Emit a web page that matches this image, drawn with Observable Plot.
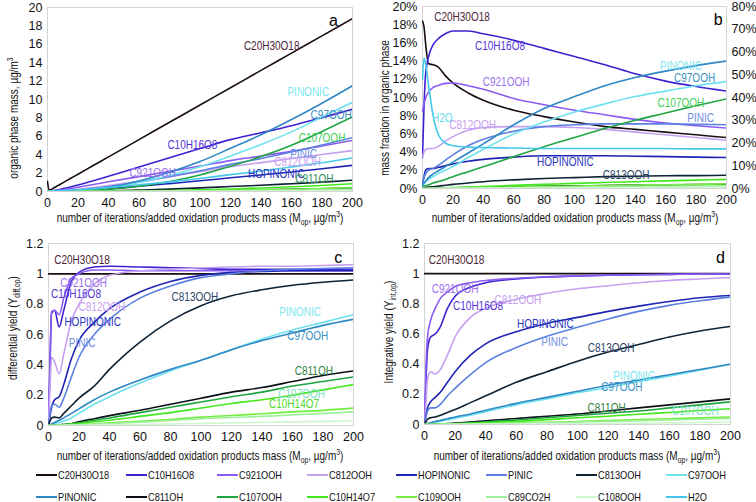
<!DOCTYPE html>
<html><head><meta charset="utf-8">
<script src="https://cdn.jsdelivr.net/npm/d3@7"></script>
<script src="https://cdn.jsdelivr.net/npm/@observablehq/plot@0.6"></script>
<style>
body{margin:0;background:#fff;}
#root{position:relative;width:756px;height:502px;overflow:hidden;background:#fff;}
.panel{position:absolute;}
.ylab,.xlab{position:absolute;white-space:nowrap;color:#111;font-family:'Liberation Sans',Arial,sans-serif;font-size:12.5px;line-height:1;}
.ylab{transform:translate(-50%,-50%) rotate(-90deg) scaleX(0.8);}
.xlab{transform:translate(-50%,-50%) scaleX(0.8);}
sub,sup{font-size:8.5px;line-height:0;}
.leg{position:absolute;display:flex;align-items:center;font-family:'Liberation Sans',Arial,sans-serif;font-size:11.5px;color:#111;transform:translateY(-50%);white-space:nowrap;}
.leg span.sw{display:inline-block;width:21px;height:2px;margin-right:1px;}
.leg span.tx{display:inline-block;transform:scaleX(0.8);transform-origin:0 50%;}
</style>
</head><body><div id="root"></div>
<script>
// ---- categories ----
const species = ["C20H30O18","C10H16O8","C921OOH","C812OOH","HOPINONIC","PINIC","C813OOH","C97OOH",
                 "PINONIC","C811OH","C107OOH","C10H14O7","C109OOH","C89CO2H","C108OOH","H2O"];
const lineColors = ["#1a0d12","#3c22d2","#8a5cf2","#c5a0f0","#1e24b4","#5b80e2","#0e2233","#6fe2f0",
                    "#2f88c4","#0a0f18","#1fa540","#42e81c","#72ec3e","#9ef09c","#cff6cf","#44c7ea"];
// x: number of iterations / added oxidation products mass
const X = [0,1,2,4,7,10,15,20,30,40,60,80,100,120,140,160,180,200];
const xTicks = [0,20,40,60,80,100,120,140,160,180,200];

// ---- panel a: organic phase mass, µg/m3 ----
const a_C20H30O18 = [1.1,0.15,0.2,0.38,0.66,0.94,1.41,1.88,2.82,3.76,5.64,7.52,9.4,11.28,13.16,15.04,16.92,18.8];
const a_C10H16O8 = [0,0.014,0.044,0.1,0.19,0.3,0.49,0.7,1.16,1.65,2.67,3.67,4.67,5.64,6.38,7.15,8.03,8.95];
const a_C921OOH  = [0,0.014,0.035,0.074,0.13,0.2,0.33,0.47,0.76,1.06,1.62,2.19,2.77,3.36,3.85,4.36,4.95,5.55];
const a_C812OOH  = [0,0.006,0.015,0.031,0.053,0.083,0.15,0.23,0.43,0.65,1.12,1.62,2.16,2.7,3.14,3.58,4.02,4.45];
const a_HOPINONIC = [0,0.002,0.007,0.015,0.026,0.041,0.073,0.11,0.2,0.31,0.57,0.86,1.16,1.49,1.8,2.12,2.47,2.85];
const a_PINIC    = [0,0.002,0.006,0.014,0.026,0.045,0.09,0.15,0.31,0.52,1.03,1.62,2.25,2.95,3.59,4.3,5.05,5.85];
const a_C813OOH  = [0,0,0,0.001,0.002,0.005,0.01,0.018,0.04,0.073,0.156,0.26,0.39,0.54,0.68,0.85,1.02,1.22];
const a_C97OOH   = [0,0.001,0.002,0.007,0.016,0.029,0.058,0.097,0.23,0.42,0.98,1.74,2.7,3.86,5.11,6.48,8.1,9.7];
const a_PINONIC  = [0,0.001,0.003,0.008,0.019,0.034,0.07,0.12,0.26,0.48,1.15,2.09,3.25,4.69,6.17,7.82,9.6,11.5];
const a_C811OH   = [0,0,0,0,0,0,0.001,0.002,0.006,0.012,0.03,0.057,0.09,0.13,0.18,0.23,0.3,0.37];
const a_C107OOH  = [0,0,0.001,0.003,0.007,0.014,0.029,0.053,0.124,0.23,0.57,1.09,1.8,2.74,3.8,5.03,6.52,8.1];
const a_C10H14O7 = [0,0,0,0,0,0,0.002,0.004,0.011,0.021,0.056,0.107,0.18,0.27,0.38,0.51,0.66,0.84];
const a_C109OOH  = [0,0,0,0,0,0,0.001,0.002,0.005,0.01,0.027,0.052,0.088,0.13,0.19,0.25,0.33,0.42];
const a_C89CO2H  = [0,0,0,0,0,0,0,0.001,0.003,0.006,0.016,0.031,0.052,0.079,0.11,0.15,0.2,0.25];
const a_C108OOH  = [0,0,0,0,0,0,0,0,0.001,0.002,0.006,0.012,0.021,0.032,0.045,0.06,0.08,0.1];
const a_H2O      = [0,0.02,0.048,0.079,0.096,0.11,0.145,0.19,0.3,0.44,0.73,1.05,1.42,1.83,2.23,2.67,3.12,3.65];

// ---- panel b: mass fraction in organic phase, % (C20H30O18 on the right axis, %) ----
const b_C20H30O18 = [73.6,71,64,54.8,54.4,53.6,49.6,46.4,42,38.8,34.4,31.6,29.2,27.2,26,24.8,23.6,22.4];
const b_C10H16O8 = [3.4,9,12.5,14.5,15.8,16.4,17.0,17.3,17.3,17.0,16.3,15.4,14.5,13.6,12.6,11.8,11.2,10.7];
const b_C921OOH  = [8.5,9.3,9.9,10.6,11.1,11.3,11.55,11.6,11.3,10.9,9.9,9.2,8.6,8.1,7.6,7.2,6.9,6.65];
const b_C812OOH  = [3.5,4.0,4.3,4.4,4.4,4.6,5.2,5.7,6.4,6.7,6.8,6.8,6.7,6.5,6.2,5.9,5.6,5.3];
const b_HOPINONIC = [0.5,1.3,2.0,2.2,2.2,2.3,2.5,2.7,3.0,3.2,3.45,3.6,3.6,3.6,3.55,3.5,3.45,3.4];
const b_PINIC    = [0.5,1.2,1.6,2.0,2.2,2.5,3.1,3.7,4.7,5.4,6.3,6.8,7.0,7.1,7.1,7.1,7.05,7.0];
const b_C813OOH  = [0.05,0.1,0.12,0.15,0.2,0.25,0.35,0.45,0.6,0.75,0.95,1.1,1.2,1.3,1.35,1.4,1.42,1.45];
const b_C97OOH   = [0.3,0.5,0.7,1.0,1.3,1.6,2.0,2.4,3.4,4.3,6.0,7.3,8.4,9.3,10.1,10.7,11.3,11.75];
const b_PINONIC  = [0.3,0.6,0.8,1.2,1.6,1.9,2.4,2.9,3.9,4.9,7.0,8.8,10.1,11.3,12.2,12.9,13.5,14.0];
const b_C811OH   = [0,0.01,0.02,0.03,0.04,0.05,0.06,0.07,0.1,0.13,0.19,0.24,0.29,0.33,0.37,0.4,0.43,0.45];
const b_C107OOH  = [0.1,0.2,0.3,0.4,0.6,0.75,1.0,1.3,1.85,2.4,3.5,4.6,5.6,6.6,7.5,8.3,9.1,9.85];
const b_C10H14O7 = [0,0,0.01,0.02,0.03,0.05,0.08,0.1,0.16,0.22,0.34,0.45,0.56,0.66,0.75,0.84,0.92,1.0];
const b_C109OOH  = [0,0,0,0.01,0.015,0.02,0.035,0.05,0.08,0.11,0.17,0.22,0.28,0.33,0.38,0.42,0.46,0.5];
const b_C89CO2H  = [0,0,0,0.005,0.01,0.015,0.02,0.03,0.05,0.065,0.1,0.13,0.16,0.2,0.23,0.25,0.28,0.3];
const b_C108OOH  = [0,0,0,0,0,0.005,0.01,0.01,0.02,0.025,0.04,0.05,0.065,0.08,0.09,0.1,0.11,0.12];
const b_H2O      = [12,14.3,13.8,11.3,8.0,6.1,5.0,4.7,4.55,4.5,4.45,4.4,4.4,4.4,4.4,4.4,4.35,4.35];

// ---- panel c: differential yield ----
const c_C20H30O18 = [1,1,1,1,1,1,1,1,1,1,1,1,1,1,1,1,1,1];
const c_C10H16O8 = [0,0.4,0.74,0.76,0.65,0.76,0.95,1.01,1.045,1.05,1.045,1.04,1.035,1.03,1.03,1.03,1.03,1.03];
const c_C921OOH  = [0,0.45,0.75,0.76,0.73,0.84,0.97,1.0,1.025,1.025,1.02,1.02,1.02,1.02,1.02,1.02,1.02,1.02];
const c_C812OOH  = [0,0.25,0.45,0.42,0.34,0.47,0.69,0.8,0.93,0.99,1.02,1.03,1.04,1.045,1.05,1.05,1.055,1.06];
const c_HOPINONIC = [0,0.06,0.12,0.17,0.19,0.27,0.44,0.56,0.68,0.77,0.88,0.95,0.99,1.01,1.015,1.02,1.02,1.02];
const c_PINIC    = [0,0.07,0.13,0.14,0.12,0.18,0.32,0.45,0.6,0.7,0.84,0.92,0.975,1.0,1.02,1.03,1.035,1.04];
const c_C813OOH  = [0,0.03,0.05,0.055,0.05,0.08,0.13,0.18,0.26,0.37,0.55,0.69,0.79,0.855,0.895,0.925,0.945,0.96];
const c_C97OOH   = [0,0.003,0.006,0.012,0.02,0.03,0.05,0.08,0.14,0.19,0.28,0.36,0.43,0.5,0.57,0.63,0.68,0.73];
const c_PINONIC  = [0,0.005,0.01,0.02,0.035,0.05,0.08,0.11,0.17,0.22,0.3,0.37,0.43,0.5,0.56,0.61,0.66,0.70];
const c_C811OH   = [0,0,0,0.002,0.004,0.007,0.012,0.025,0.045,0.065,0.1,0.14,0.18,0.22,0.25,0.29,0.33,0.36];
const c_C107OOH  = [0,0,0,0.002,0.004,0.007,0.012,0.018,0.035,0.05,0.085,0.12,0.155,0.19,0.22,0.26,0.29,0.32];
const c_C10H14O7 = [0,0,0,0.001,0.003,0.005,0.009,0.013,0.025,0.035,0.06,0.085,0.115,0.145,0.17,0.2,0.235,0.27];
const c_C109OOH  = [0,0,0,0,0.001,0.002,0.004,0.006,0.012,0.017,0.028,0.04,0.055,0.066,0.077,0.09,0.1,0.115];
const c_C89CO2H  = [0,0,0,0,0.001,0.002,0.003,0.005,0.009,0.013,0.022,0.033,0.045,0.053,0.06,0.07,0.08,0.09];
const c_C108OOH  = [0,0,0,0,0,0,0.001,0.001,0.003,0.004,0.007,0.01,0.013,0.017,0.02,0.024,0.027,0.03];

// ---- panel d: integrative yield ----
const d_C20H30O18 = [1,1,1,1,1,1,1,1,1,1,1,1,1,1,1,1,1,1];
const d_C10H16O8 = [0,0.3,0.5,0.58,0.6,0.64,0.77,0.85,0.91,0.94,0.965,0.978,0.985,0.99,0.993,0.995,0.997,0.998];
const d_C921OOH  = [0,0.4,0.58,0.69,0.77,0.83,0.88,0.915,0.94,0.955,0.97,0.98,0.985,0.99,0.993,0.995,0.997,0.998];
const d_C812OOH  = [0,0.15,0.3,0.35,0.335,0.36,0.46,0.58,0.71,0.77,0.83,0.87,0.9,0.92,0.94,0.955,0.965,0.975];
const d_HOPINONIC = [0,0.06,0.11,0.15,0.18,0.21,0.28,0.35,0.46,0.535,0.615,0.67,0.71,0.75,0.785,0.815,0.84,0.855];
const d_PINIC    = [0,0.05,0.09,0.11,0.11,0.13,0.19,0.24,0.33,0.41,0.51,0.585,0.645,0.7,0.75,0.79,0.82,0.845];
const d_C813OOH  = [0,0.02,0.035,0.045,0.05,0.06,0.08,0.1,0.145,0.19,0.28,0.35,0.42,0.48,0.53,0.58,0.62,0.65];
const d_C97OOH   = [0,0.002,0.004,0.008,0.014,0.02,0.03,0.04,0.062,0.085,0.13,0.17,0.21,0.245,0.285,0.32,0.36,0.40];
const d_PINONIC  = [0,0.003,0.006,0.012,0.02,0.027,0.038,0.05,0.07,0.095,0.14,0.18,0.22,0.26,0.295,0.33,0.365,0.40];
const d_C811OH   = [0,0,0,0.001,0.002,0.003,0.006,0.009,0.016,0.025,0.04,0.055,0.07,0.09,0.11,0.13,0.15,0.17];
const d_C107OOH  = [0,0,0,0.001,0.002,0.003,0.005,0.007,0.012,0.017,0.03,0.045,0.06,0.075,0.09,0.11,0.13,0.15];
const d_C10H14O7 = [0,0,0,0,0.001,0.002,0.003,0.005,0.008,0.012,0.02,0.032,0.045,0.055,0.068,0.08,0.093,0.105];
const d_C109OOH  = [0,0,0,0,0,0.001,0.002,0.003,0.004,0.006,0.01,0.015,0.02,0.026,0.032,0.038,0.044,0.05];
const d_C89CO2H  = [0,0,0,0,0,0.001,0.001,0.002,0.003,0.005,0.008,0.012,0.016,0.021,0.025,0.03,0.035,0.04];
const d_C108OOH  = [0,0,0,0,0,0,0,0.001,0.001,0.002,0.003,0.005,0.006,0.008,0.009,0.011,0.013,0.015];

// ---- tick labels ----
const aTicks = [0,2,4,6,8,10,12,14,16,18,20];
const aTickLabels = ["0","2","4","6","8","10","12","14","16","18","20"];
const bTicks = [0,2,4,6,8,10,12,14,16,18,20];
const bTickLabels = ["0%","2%","4%","6%","8%","10%","12%","14%","16%","18%","20%"];
const bRightTicks = [0,2.5,5,7.5,10,12.5,15,17.5,20];
const bRightTickLabels = ["0%","10%","20%","30%","40%","50%","60%","70%","80%"];
const yieldTicks = [0,0.2,0.4,0.6,0.8,1,1.2];
const yieldTickLabels = ["0","0.2","0.4","0.6","0.8","1","1.2"];

// ---- in-chart labels: [text, x, y, colour] ----
const labelsA = [["C20H30O18",147,15.8,"#4b2535"],["PINONIC",171,10.8,"#7de6f0"],["C97OOH",186,8.3,"#3a8fc4"],
  ["C107OOH",180,5.8,"#3fcf55"],["PINIC",168,4.1,"#6d8de6"],["C812OOH",164,3.2,"#c9a0ef"],
  ["HOPINONIC",150,1.9,"#2b35c0"],["C811OH",175,1.4,"#2e8b57"],["C10H16O8",95,5.1,"#5436d6"],["C921OOH",69,2.0,"#9a70f0"]];
const labelsB = [["C20H30O18",26,18.8,"#4b2535"],["C10H16O8",51,15.7,"#5436d6"],["C921OOH",55,11.7,"#9a70f0"],
  ["H2O",13,7.8,"#66e0ee"],["C812OOH",33,7.0,"#c9a0ef"],["PINONIC",170,13.5,"#7de6f0"],["C97OOH",179,12.1,"#3a8fc4"],
  ["C107OOH",170,9.4,"#3fcf55"],["PINIC",183,7.8,"#6d8de6"],["HOPINONIC",94,2.9,"#2b35c0"],["C813OOH",134,1.5,"#2c4468"]];
const labelsC = [["C20H30O18",22,1.09,"#4b2535"],["C921OOH",23,0.94,"#9a70f0"],["C10H16O8",18,0.865,"#5436d6"],
  ["C812OOH",35,0.78,"#c9a0ef"],["HOPINONIC",29,0.685,"#2b35c0"],["PINIC",22,0.545,"#6d8de6"],["C813OOH",96,0.845,"#2c4468"],
  ["PINONIC",165,0.75,"#7de6f0"],["C97OOH",170,0.59,"#3a8fc4"],["C811OH",174,0.36,"#2e8040"],
  ["C107OOH",166,0.21,"#7fe0c8"],["C10H14O7",161,0.14,"#4fd82a"]];
const labelsD = [["C20H30O18",21,1.09,"#4b2535"],["C921OOH",20,0.9,"#9a70f0"],["C10H16O8",35,0.785,"#5436d6"],
  ["C812OOH",61,0.825,"#c9a0ef"],["HOPINONIC",79,0.667,"#2b35c0"],["PINIC",85,0.55,"#6d8de6"],["C813OOH",122,0.51,"#2c4468"],
  ["PINONIC",137,0.32,"#7de6f0"],["C97OOH",129,0.25,"#3a8fc4"],["C811OH",119,0.11,"#2e8040"],["C107OOH",177,0.09,"#7fe0c8"]];

const seriesA = [a_C20H30O18,a_C10H16O8,a_C921OOH,a_C812OOH,a_HOPINONIC,a_PINIC,a_C813OOH,a_C97OOH,a_PINONIC,a_C811OH,a_C107OOH,a_C10H14O7,a_C109OOH,a_C89CO2H,a_C108OOH,a_H2O];
const seriesB = [b_C20H30O18,b_C10H16O8,b_C921OOH,b_C812OOH,b_HOPINONIC,b_PINIC,b_C813OOH,b_C97OOH,b_PINONIC,b_C811OH,b_C107OOH,b_C10H14O7,b_C109OOH,b_C89CO2H,b_C108OOH,b_H2O];
const seriesC = [c_C20H30O18,c_C10H16O8,c_C921OOH,c_C812OOH,c_HOPINONIC,c_PINIC,c_C813OOH,c_C97OOH,c_PINONIC,c_C811OH,c_C107OOH,c_C10H14O7,c_C109OOH,c_C89CO2H,c_C108OOH,null];
const seriesD = [d_C20H30O18,d_C10H16O8,d_C921OOH,d_C812OOH,d_HOPINONIC,d_PINIC,d_C813OOH,d_C97OOH,d_PINONIC,d_C811OH,d_C107OOH,d_C10H14O7,d_C109OOH,d_C89CO2H,d_C108OOH,null];

const FONT = "'Liberation Sans',Arial,sans-serif";

function buildPanel(o) {
  const marks = [Plot.frame({stroke: "#d4d4d4", strokeWidth: 1})];
  o.series.forEach((vals, i) => {
    if (!vals) return;
    const k = (o.factor && o.factor[species[i]]) || 1;
    const rows = X.map((x, j) => ({x, y: vals[j] * k}));
    marks.push(Plot.line(rows, {x: "x", y: "y", stroke: lineColors[i], strokeWidth: 1.6, curve: "monotone-x", clip: true}));
  });
  o.labels.forEach(([t, x, y, c]) => marks.push(
    Plot.text([{x, y, t}], {x: "x", y: "y", text: "t", fill: c, fontFamily: FONT, fontSize: 12.5})));
  marks.push(Plot.text([{x: o.letter[1], y: o.letter[2], t: o.letter[0]}],
    {x: "x", y: "y", text: "t", fill: "#000", fontSize: 16, fontFamily: FONT}));
  marks.push(Plot.axisX({ticks: xTicks, tickFormat: d => String(d), tickSize: 0, tickPadding: 7, label: null}));
  marks.push(Plot.axisY({ticks: o.yTicks, tickFormat: d => o.yLabels[o.yTicks.indexOf(d)], tickSize: 0, tickPadding: 5, label: null}));
  if (o.right) marks.push(Plot.axisY({anchor: "right", ticks: o.right[0], tickFormat: d => o.right[1][o.right[0].indexOf(d)], tickSize: 0, tickPadding: 5, label: null}));
  return Plot.plot({
    width: o.w, height: o.h,
    marginLeft: o.m[0], marginRight: o.m[1], marginTop: o.m[2], marginBottom: o.m[3],
    x: {domain: [0, 200]}, y: {domain: o.yDomain},
    style: {fontFamily: FONT, fontSize: "12.5px", color: "#111", background: "transparent", overflow: "visible"},
    marks
  });
}

const root = document.getElementById("root");
function place(el, left, top) {
  const d = document.createElement("div");
  d.className = "panel"; d.style.left = left + "px"; d.style.top = top + "px";
  d.appendChild(el); root.appendChild(d);
  // condense in-chart label text (narrow face look) now that it is in the document
  el.querySelectorAll('g[aria-label="text"] text').forEach(t => {
    if (t.textContent.length < 2) return;
    const L = t.getComputedTextLength();
    t.setAttribute("textLength", (L * 0.8).toFixed(1));
    t.setAttribute("lengthAdjust", "spacingAndGlyphs");
  });
}
place(buildPanel({series: seriesA, labels: labelsA, letter: ["a",187.5,18.6], yTicks: aTicks, yLabels: aTickLabels,
  yDomain: [0, 20], w: 378, h: 214, m: [47, 26, 7, 23]}), 0, 0);
place(buildPanel({series: seriesB, labels: labelsB, letter: ["b",194.5,18.5], yTicks: bTicks, yLabels: bTickLabels,
  right: [bRightTicks, bRightTickLabels], factor: {C20H30O18: 20 / 80},
  yDomain: [0, 20], w: 378, h: 214, m: [44, 30, 6, 26]}), 378, 0);
place(buildPanel({series: seriesC, labels: labelsC, letter: ["c",190,1.107], yTicks: yieldTicks, yLabels: yieldTickLabels,
  yDomain: [0, 1.2], w: 378, h: 210, m: [48, 25, 11, 17]}), 0, 232);
place(buildPanel({series: seriesD, labels: labelsD, letter: ["d",193.5,1.106], yTicks: yieldTicks, yLabels: yieldTickLabels,
  yDomain: [0, 1.2], w: 378, h: 210, m: [46, 26, 11, 18]}), 378, 232);

// axis titles
const xTitle = "number of iterations/added oxidation products mass (M<sub>op</sub>, µg/m<sup>3</sup>)";
const titles = [
  ["ylab", 14, 118, "organic phase mass, µg/m<sup>3</sup>"],
  ["ylab", 385, 108, "mass fraction in organic phase"],
  ["ylab", 13, 328, "differential yield (Y<sub>diff,op</sub>)"],
  ["ylab", 389, 332, "Integrative yield (Y<sub>int,op</sub>)"],
  ["xlab", 200, 218, xTitle], ["xlab", 575, 218, xTitle],
  ["xlab", 200, 456, xTitle], ["xlab", 577, 456, xTitle]
];
titles.forEach(([cls, x, y, html]) => {
  const d = document.createElement("div");
  d.className = cls; d.style.left = x + "px"; d.style.top = y + "px"; d.innerHTML = html;
  root.appendChild(d);
});

// legend
const legendCols = [36,126,217,307,396,486,576,666];
const legendRows = [475,497];
species.forEach((s, i) => {
  const d = document.createElement("div");
  d.className = "leg";
  d.style.left = legendCols[i % 8] + "px";
  d.style.top = legendRows[Math.floor(i / 8)] + "px";
  d.innerHTML = `<span class="sw" style="background:${lineColors[i]}"></span><span class="tx">${s}</span>`;
  root.appendChild(d);
});
</script>
</body></html>
